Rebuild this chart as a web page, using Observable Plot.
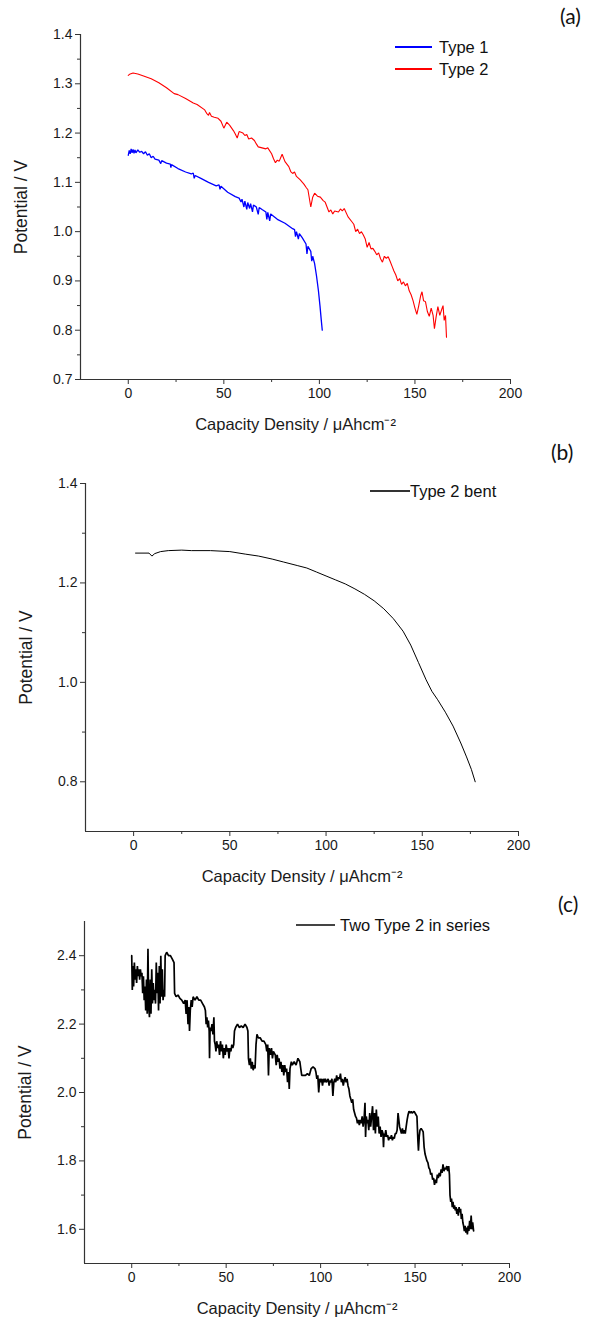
<!DOCTYPE html>
<html>
<head>
<meta charset="utf-8">
<script src="https://cdn.jsdelivr.net/npm/d3@7"></script>
<script src="https://cdn.jsdelivr.net/npm/@observablehq/plot@0.6"></script>
<style>
  html, body { margin: 0; padding: 0; background: #fff; }
  #root { position: relative; width: 596px; height: 1320px; overflow: hidden; font-family: "Liberation Sans", Arial, sans-serif; color: #1a1a1a; }
  .panel { position: absolute; left: 0; }
  .tag { position: absolute; font-family: Lato, "Open Sans", sans-serif; font-size: 21px; color: #111; }
  .legend { position: absolute; font-family: "Liberation Sans", Arial, sans-serif; font-size: 16.5px; color: #111; line-height: 22px; }
  .legend .row { display: flex; align-items: center; white-space: nowrap; }
  .legend .sw { display: inline-block; height: 1.3px; }
</style>
</head>
<body>
<div id="root"></div>
<script>
// ---------- axes ----------
const xDomain = [-25, 200];
const xMajor = [0, 50, 100, 150, 200];
const xMinor = [25, 75, 125, 175];
const xTitle = "Capacity Density / μAhcm⁻²";
const yTitle = "Potential / V";

const yDomainA = [0.7, 1.4];
const yMajorA = [0.7, 0.8, 0.9, 1.0, 1.1, 1.2, 1.3, 1.4];
const yMinorA = [0.75, 0.85, 0.95, 1.05, 1.15, 1.25, 1.35];

const yDomainB = [0.7, 1.4];
const yMajorB = [0.8, 1.0, 1.2, 1.4];
const yMinorB = [0.9, 1.1, 1.3];

const yDomainC = [1.5, 2.5];
const yMajorC = [1.6, 1.8, 2.0, 2.2, 2.4];
const yMinorC = [1.7, 1.9, 2.1, 2.3];

// ---------- series (capacity density, potential) ----------
const type1Points = [
  [0,1.155],[0.5,1.165],[1,1.158],[1.5,1.168],[2,1.160],[2.5,1.167],[3,1.159],[3.5,1.166],[4,1.160],
  [5,1.166],[6,1.161],[7,1.163],[8,1.158],[9,1.162],[10,1.155],[11,1.158],[12,1.150],[13,1.153],[14,1.147],
  [16,1.145],[17,1.138],[17.5,1.144],[20,1.139],[22,1.137],[22.3,1.130],[22.6,1.136],
  [26,1.128],[30,1.121],[33,1.117],[34,1.119],[34.5,1.108],[35,1.114],[38,1.108],[42,1.100],[46,1.093],
  [47.5,1.095],[48,1.086],[48.5,1.092],[52,1.080],[56,1.071],[58,1.068],[59,1.060],[59.5,1.066],
  [60.5,1.050],[61,1.062],[62,1.045],[62.5,1.059],[63.5,1.047],[64,1.057],[65,1.040],[65.5,1.054],[67,1.050],[68,1.035],[68.5,1.049],
  [70,1.045],[72,1.040],[72.5,1.025],[73,1.039],[74,1.022],[74.5,1.036],
  [78,1.025],[82,1.017],[86,1.006],[87,1.004],[87.5,0.990],[88,1.000],[89,0.985],[89.5,0.996],
  [91,0.988],[93,0.975],[93.5,0.955],[94,0.970],[95.5,0.960],[96,0.940],[96.5,0.950],[97.5,0.935],
  [98.5,0.910],[99.5,0.880],[100.3,0.850],[101,0.820],[101.5,0.800]
];

const type2Points = [
  [0,1.317],[1,1.320],[2.5,1.322],[5,1.320],[8,1.316],[12,1.310],[16,1.302],[20,1.292],[24,1.280],[26,1.278],
  [30,1.270],[34,1.261],[36,1.258],[40,1.247],[41,1.240],[42,1.236],[42.5,1.242],[43.5,1.234],[45,1.232],[47,1.230],
  [48.5,1.224],[50,1.210],[51.5,1.222],[53,1.216],[55,1.205],[56,1.198],[57,1.190],[58,1.203],[60,1.200],[61,1.195],
  [62,1.197],[63,1.188],[64.5,1.190],[66,1.185],[67,1.178],[68,1.172],[70,1.170],[72,1.168],[73,1.170],[75,1.158],
  [76,1.148],[77,1.140],[78,1.145],[79,1.143],[80.5,1.157],[82,1.142],[84,1.132],[85,1.122],[86,1.118],[87,1.121],
  [88,1.112],[90,1.105],[92,1.096],[93,1.090],[94,1.085],[95.5,1.050],[96.5,1.070],[97.5,1.078],[99,1.072],[100.5,1.070],
  [102,1.063],[103,1.060],[104,1.050],[105,1.040],[106,1.044],[107,1.036],[108,1.042],[110,1.040],[111,1.046],[112,1.042],
  [113,1.047],[115,1.030],[117,1.020],[118,1.015],[119,1.000],[120,1.005],[121,0.996],[122,1.000],[123,0.993],[124,0.985],
  [125,0.968],[126,0.978],[127,0.965],[128,0.966],[129,0.960],[130,0.953],[131,0.957],[132,0.945],[133,0.938],[134,0.950],
  [135,0.946],[136,0.949],[137,0.940],[138,0.930],[139,0.920],[140,0.912],[141,0.900],[142,0.905],[143,0.893],[144,0.898],
  [145,0.890],[146,0.895],[147,0.880],[148,0.872],[149,0.860],[150,0.845],[151,0.832],[152,0.850],[153,0.870],[153.7,0.878],
  [154.5,0.860],[155.5,0.858],[156.5,0.838],[157.5,0.828],[158.5,0.845],[159.5,0.830],[160.2,0.803],[161,0.825],[162,0.848],
  [163,0.830],[164,0.842],[164.7,0.850],[165.3,0.820],[166,0.830],[166.5,0.786]
];

const bentPoints = [
  [1,1.260],[8,1.260],[9.5,1.254],[11,1.259],[14,1.263],[18,1.265],[25,1.266],[30,1.265],[40,1.265],[50,1.263],
  [58,1.258],[65,1.254],[72,1.248],[78,1.242],[85,1.235],[90,1.230],[95,1.222],[100,1.214],[105,1.206],[110,1.198],
  [115,1.188],[120,1.177],[125,1.164],[130,1.148],[135,1.128],[140,1.103],[144,1.075],[148,1.040],[152,1.005],[155,0.982],
  [158,0.965],[162,0.940],[166,0.912],[170,0.878],[173,0.850],[175.5,0.825],[177.5,0.800]
];

const seriesPoints = [
  [0,2.40],[0.3,2.30],[0.6,2.37],[1.0,2.31],[1.4,2.38],[1.8,2.33],[2.2,2.36],[2.6,2.32],[3.0,2.37],[3.4,2.34],
  [3.8,2.36],[4.2,2.33],[4.6,2.36],[5.0,2.34],[5.4,2.35],[5.8,2.29],[6.2,2.34],[6.6,2.27],[7.0,2.31],[7.4,2.24],
  [7.8,2.33],[8.2,2.23],[8.6,2.42],[9.0,2.25],[9.4,2.22],[9.8,2.33],[10.2,2.23],[10.6,2.36],[11.0,2.26],[11.4,2.32],
  [11.8,2.27],[12.2,2.30],[12.6,2.26],[13.0,2.38],[13.4,2.29],[13.8,2.35],[14.2,2.24],[14.6,2.37],[15.0,2.26],[15.4,2.40],
  [15.8,2.28],[16.2,2.36],[16.6,2.27],[17.0,2.30],[17.4,2.28],[17.7,2.40],[18.5,2.41],[19.5,2.40],[20.5,2.40],[21.5,2.39],
  [22.4,2.38],[22.7,2.29],[23.5,2.28],[24.5,2.285],[25.5,2.275],[26.5,2.27],[27.5,2.26],[28.3,2.27],[28.8,2.23],[29.3,2.27],
  [29.8,2.20],[30.2,2.25],[30.6,2.18],[31.0,2.24],[31.5,2.27],[32.0,2.25],[32.5,2.28],[33.5,2.27],[34.5,2.28],[35.5,2.27],
  [36.5,2.27],[37.5,2.26],[38.5,2.25],[39.0,2.24],[39.4,2.20],[39.8,2.22],[40.2,2.19],[40.6,2.21],[41.0,2.18],[41.2,2.10],
  [41.5,2.19],[42.0,2.18],[42.5,2.20],[43.0,2.17],[43.5,2.22],[43.8,2.15],[44.2,2.14],[44.6,2.12],[45.0,2.15],[45.5,2.13],
  [46.0,2.14],[46.5,2.11],[47.0,2.15],[47.5,2.12],[48.0,2.14],[48.5,2.10],[49.0,2.13],[49.5,2.11],[50.0,2.14],[50.5,2.12],
  [51.0,2.13],[51.5,2.10],[52.0,2.13],[52.5,2.12],[53.0,2.14],[53.5,2.13],[54.0,2.14],[54.4,2.18],[55.0,2.19],[56.0,2.20],
  [57.0,2.19],[58.0,2.195],[59.0,2.19],[60.0,2.20],[61.0,2.19],[61.5,2.18],[61.8,2.10],[62.3,2.08],[62.8,2.10],[63.3,2.07],
  [63.8,2.09],[64.3,2.065],[64.8,2.08],[65.3,2.07],[65.8,2.14],[66.3,2.17],[67.0,2.16],[68.0,2.16],[69.0,2.15],[70.0,2.15],
  [71.0,2.14],[71.5,2.12],[72.0,2.14],[72.4,2.05],[72.8,2.13],[73.5,2.11],[74.0,2.13],[74.5,2.10],[75.0,2.12],[76.0,2.11],
  [76.5,2.08],[77.0,2.11],[77.5,2.09],[78.0,2.10],[78.5,2.07],[79.0,2.09],[79.5,2.06],[80.0,2.08],[80.5,2.05],[81.0,2.08],
  [81.5,2.06],[82.0,2.07],[82.5,2.03],[83.0,2.06],[83.4,2.01],[83.8,2.07],[84.5,2.09],[85.0,2.08],[86.0,2.09],[87.0,2.08],
  [88.0,2.10],[89.0,2.09],[89.5,2.07],[90.0,2.05],[91.0,2.05],[92.0,2.05],[93.0,2.055],[94.0,2.05],[95.0,2.07],[96.0,2.075],
  [97.0,2.07],[97.5,2.06],[98.0,2.04],[98.5,2.05],[99.0,2.00],[99.5,2.04],[100.0,2.03],[100.5,2.04],[101.0,2.02],[101.5,2.04],
  [102.0,2.03],[102.5,2.04],[103.0,2.03],[104.0,2.04],[104.5,2.02],[105.0,2.035],[105.5,2.03],[106.0,2.04],[106.5,1.99],[107.0,2.03],
  [107.5,2.04],[108.0,2.03],[108.5,2.05],[109.0,2.035],[109.5,2.045],[110.0,2.04],[110.5,2.055],[111.0,2.03],[111.5,2.04],[112.0,2.02],
  [112.5,2.035],[113.0,2.045],[113.5,2.03],[114.0,2.04],[114.5,2.02],[115.0,2.01],[115.5,1.99],[116.0,1.98],[116.5,1.97],[117.0,1.98],
  [117.5,1.95],[118.0,1.94],[118.5,1.93],[119.0,1.925],[119.5,1.91],[120.0,1.92],[120.5,1.905],[121.0,1.92],[121.5,1.91],[122.0,1.93],
  [122.5,1.90],[123.0,1.92],[123.5,1.97],[123.8,1.87],[124.2,1.93],[124.6,1.91],[125.0,1.92],[125.5,1.89],[126.0,1.94],[126.5,1.90],
  [127.0,1.93],[127.5,1.96],[128.0,1.89],[128.5,1.94],[129.0,1.88],[129.5,1.95],[130.0,1.90],[130.5,1.93],[131.0,1.88],[131.5,1.90],
  [132.0,1.87],[132.5,1.89],[133.0,1.88],[133.3,1.84],[133.6,1.88],[134.0,1.87],[134.5,1.89],[135.0,1.87],[135.5,1.875],[136.0,1.86],
  [136.5,1.87],[137.0,1.865],[137.5,1.875],[138.0,1.86],[138.5,1.87],[139.0,1.865],[139.5,1.88],[140.0,1.88],[140.5,1.89],[141.0,1.94],
  [141.4,1.92],[141.8,1.90],[142.3,1.89],[142.8,1.88],[143.3,1.895],[143.8,1.88],[144.3,1.89],[144.8,1.88],[145.3,1.90],[145.8,1.92],
  [146.3,1.935],[146.8,1.945],[147.5,1.94],[148.0,1.945],[148.5,1.94],[149.5,1.945],[150.5,1.935],[151.0,1.93],[151.5,1.86],[151.8,1.83],
  [152.2,1.87],[152.6,1.89],[153.2,1.895],[153.8,1.89],[154.3,1.885],[154.8,1.84],[155.3,1.82],[155.8,1.81],[156.3,1.80],[156.8,1.795],
  [157.3,1.78],[157.8,1.775],[158.3,1.76],[158.8,1.765],[159.3,1.745],[159.8,1.75],[160.3,1.73],[160.8,1.745],[161.3,1.735],[161.8,1.76],
  [162.3,1.75],[162.8,1.765],[163.3,1.755],[163.8,1.775],[164.3,1.765],[164.8,1.79],[165.3,1.77],[165.8,1.78],[166.3,1.775],[166.8,1.785],
  [167.3,1.77],[167.8,1.785],[168.2,1.76],[168.5,1.70],[168.9,1.68],[169.3,1.69],[169.7,1.665],[170.1,1.68],[170.5,1.66],[170.9,1.67],
  [171.3,1.655],[171.7,1.665],[172.1,1.645],[172.5,1.66],[172.9,1.64],[173.3,1.665],[173.7,1.65],[174.1,1.66],[174.5,1.63],[174.9,1.645],
  [175.3,1.62],[175.7,1.61],[176.1,1.595],[176.5,1.61],[176.9,1.59],[177.3,1.605],[177.7,1.585],[178.1,1.61],[178.5,1.595],[178.9,1.625],
  [179.3,1.60],[179.7,1.64],[180.1,1.60],[180.5,1.62],[181.0,1.595]
];

const legendA = [["Type 1", "#0000ff"], ["Type 2", "#ff0000"]];
const legendB = [["Type 2 bent", "#333"]];
const legendC = [["Two Type 2 in series", "#444"]];

// ---------- helpers ----------
const toRows = pts => pts.map(([x, y]) => ({x, y}));
const fmt1 = d3.format(".1f");

function panel({top, height, margins, yDomain, yMajor, yMinor, series}) {
  const [mt, mr, mb, ml] = margins;
  const axisStroke = "#333";
  const chart = Plot.plot({
    width: 596,
    height,
    marginTop: mt, marginRight: mr, marginBottom: mb, marginLeft: ml,
    style: {fontFamily: "'Liberation Sans', Arial, sans-serif", fontSize: "14px", color: "#1a1a1a", background: "white"},
    x: {domain: xDomain},
    y: {domain: yDomain},
    marks: [
      Plot.ruleX([xDomain[0]], {stroke: axisStroke, strokeWidth: 1.2}),
      Plot.ruleY([yDomain[0]], {stroke: axisStroke, strokeWidth: 1.2}),
      Plot.axisX({ticks: xMajor, tickSize: 5, tickPadding: 4, stroke: axisStroke, tickFormat: d => String(d), label: null, fontSize: 14}),
      Plot.axisX({ticks: xMinor, tickSize: 3, tickFormat: () => "", stroke: axisStroke, label: null}),
      Plot.axisX({ticks: [], label: xTitle, labelAnchor: "center", labelOffset: 50, labelArrow: "none", fontSize: 16.5}),
      Plot.axisY({ticks: yMajor, tickSize: 5, tickPadding: 3, stroke: axisStroke, tickFormat: fmt1, label: null, fontSize: 14}),
      Plot.axisY({ticks: yMinor, tickSize: 3, tickFormat: () => "", stroke: axisStroke, label: null}),
      Plot.axisY({ticks: [], label: yTitle, labelAnchor: "center", labelOffset: 66, labelArrow: "none", fontSize: 17.5}),
      ...series.map(s => Plot.line(toRows(s.points), {x: "x", y: "y", stroke: s.color, strokeWidth: s.width, strokeLinejoin: "miter"}))
    ]
  });
  chart.classList.add("panel");
  chart.style.top = top + "px";
  return chart;
}

function legend(items, left, top, swatch, gap) {
  const div = document.createElement("div");
  div.className = "legend";
  div.style.left = left + "px";
  div.style.top = top + "px";
  for (const [name, color] of items) {
    const row = document.createElement("div");
    row.className = "row";
    const sw = document.createElement("span");
    sw.className = "sw";
    sw.style.width = swatch + "px";
    sw.style.background = color;
    sw.style.marginRight = gap + "px";
    row.appendChild(sw);
    row.appendChild(document.createTextNode(name));
    div.appendChild(row);
  }
  return div;
}

function tag(text, left, top) {
  const d = document.createElement("div");
  d.className = "tag";
  d.textContent = text;
  d.style.left = left + "px";
  d.style.top = top + "px";
  return d;
}

const root = document.getElementById("root");

root.appendChild(panel({
  top: 0, height: 440, margins: [34, 86, 61, 80],
  yDomain: yDomainA, yMajor: yMajorA, yMinor: yMinorA,
  series: [
    {points: type1Points, color: "#0000ff", width: 1.3},
    {points: type2Points, color: "#ff0000", width: 1.1}
  ]
}));
root.appendChild(panel({
  top: 440, height: 450, margins: [43, 78, 59, 85],
  yDomain: yDomainB, yMajor: yMajorB, yMinor: yMinorB,
  series: [{points: bentPoints, color: "#000", width: 1}]
}));
root.appendChild(panel({
  top: 890, height: 430, margins: [31, 87, 57, 84],
  yDomain: yDomainC, yMajor: yMajorC, yMinor: yMinorC,
  series: [{points: seriesPoints, color: "#000", width: 1.7}]
}));

root.appendChild(legend(legendA, 395, 36, 37, 7));
root.appendChild(legend(legendB, 370, 480, 40, 0));
root.appendChild(legend(legendC, 296, 914, 39, 5));

root.appendChild(tag("(a)", 560, 3));
root.appendChild(tag("(b)", 551, 439));
root.appendChild(tag("(c)", 558, 891));
</script>
</body>
</html>
